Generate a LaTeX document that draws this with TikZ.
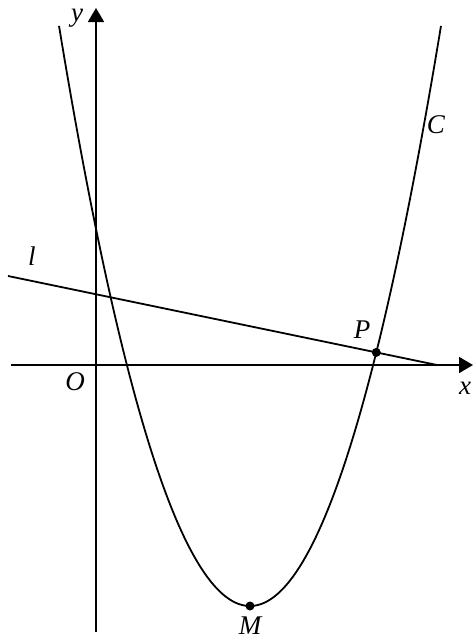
\documentclass[tikz,border=0pt]{standalone}
\usepackage{fontspec}
\setmainfont{Liberation Serif}
\usepackage{tikz}
\usetikzlibrary{arrows.meta, positioning, intersections}

\begin{document}
\begin{tikzpicture}[
    x=0.5pt, y=-0.5pt,
    node distance=2pt,
    axis/.style={-{Triangle[length=7pt, width=8pt]}, line width=0.9pt},
    curve/.style={line width=0.9pt},
    lab/.style={font=\fontsize{13.5}{16}\selectfont\itshape, inner sep=1pt},
    dot/.style={circle, fill, inner sep=0pt, minimum size=4.5pt}
]
\useasboundingbox (0,0) rectangle (473,643);
% axes
\coordinate (xl) at (11,365);
\coordinate (xr) at (473,365);
\coordinate (yb) at (96,632);
\coordinate (yt) at (96,8);
\draw[axis] (xl) -- (xr);
\draw[axis] (yb) -- (yt);
% curve C and line l
\draw[curve, name path=para] plot[domain=59:441, samples=120] (\x, {606-(0.1261*(\x-250))^2});
\coordinate (ls) at (8,276);
\coordinate (le) at (437,365);
\draw[curve, name path=lline] (ls) -- (le);
\path[name intersections={of=para and lline, name=cut, sort by=lline}];
\node[dot] (P) at (cut-2) {};
\node[dot] (M) at (250,606) {};
% labels
\node[lab] (ylab) at (77,18) {y};
\node[lab] (xlab) at (465,388) {x};
\node[lab] (olab) at (75,382) {O};
\node[lab] (llab) at (32,256) {l};
\node[lab] (clab) at (436,125) {C};
\node[lab, above left=4pt and 0pt of P] (plab) {P};
\node[lab, below=2pt of M] (mlab) {M};
\end{tikzpicture}
\end{document}
